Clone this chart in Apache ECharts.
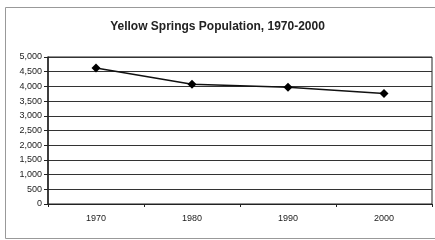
<!DOCTYPE html>
<html>
<head>
<meta charset="utf-8">
<script src="https://cdn.jsdelivr.net/npm/echarts@6/dist/echarts.min.js"></script>
<style>
  html, body { margin: 0; padding: 0; background: #fff; }
  #chart { width: 435px; height: 240px; }
</style>
</head>
<body>
<div id="chart"></div>
<script>
  // data
  var years = ['1970', '1980', '1990', '2000'];
  var population = [4624, 4077, 3973, 3761];
  var yMin = 0, yMax = 5000, yStep = 500;

  var chart = echarts.init(document.getElementById('chart'));
  chart.setOption({
    animation: false,
    backgroundColor: '#fff',
    textStyle: { fontFamily: 'Liberation Sans, Arial, sans-serif' },
    graphic: [{
      type: 'rect',
      shape: { x: 5.5, y: 7.5, width: 440, height: 231 },
      style: { fill: 'none', stroke: '#999', lineWidth: 1 },
      silent: true
    }],
    title: {
      text: 'Yellow Springs Population, 1970-2000',
      left: 'center',
      top: 16,
      textStyle: { fontSize: 12, fontWeight: 'bold', color: '#222' }
    },
    grid: {
      left: 48, right: 3, top: 57, bottom: 36,
      show: true, borderColor: '#222', borderWidth: 1
    },
    xAxis: {
      type: 'category',
      data: years,
      boundaryGap: true,
      axisLine: { lineStyle: { color: '#222', width: 1 } },
      axisTick: { show: true, length: 3, lineStyle: { color: '#222' } },
      axisLabel: { fontSize: 9, color: '#222', margin: 10 },
      splitLine: { show: false }
    },
    yAxis: {
      type: 'value',
      min: yMin, max: yMax, interval: yStep,
      axisLine: { show: true, lineStyle: { color: '#222', width: 1.5 } },
      axisTick: { show: true, length: 4, lineStyle: { color: '#222' } },
      axisLabel: {
        fontSize: 9, color: '#222', margin: 6,
        formatter: function (v) { return v.toLocaleString('en-US'); }
      },
      splitLine: { show: true, lineStyle: { color: '#333', width: 1 } }
    },
    series: [{
      type: 'line',
      data: population,
      symbol: 'diamond',
      symbolSize: 9,
      itemStyle: { color: '#000' },
      lineStyle: { color: '#111', width: 1.5 }
    }]
  });
</script>
</body>
</html>
